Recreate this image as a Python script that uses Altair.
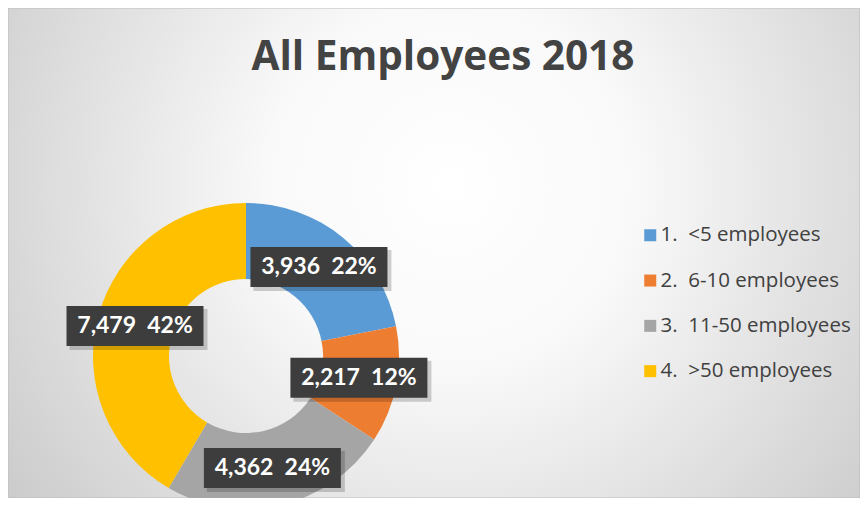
import altair as alt
import pandas as pd

TITLE = "All Employees 2018"
categories = ["1.\u00a0 <5 employees", "2.\u00a0 6-10 employees",
              "3.\u00a0 11-50 employees", "4.\u00a0 >50 employees"]
values = [3936, 2217, 4362, 7479]
colors = ["#5B9BD5", "#ED7D31", "#A5A5A5", "#FFC000"]

W, H = 852, 490
CX, CY = 238, 348
R_OUT, R_IN = 153, 77
R_LAB = 115
BOX_W, BOX_H = 137, 40
FONT = "Lato"
FONT2 = "Open Sans"

total = sum(values)
df = pd.DataFrame({
    "category": categories,
    "value": values,
    "order": list(range(len(values))),
    "label": [f"{v:,}\u00a0\u00a0{round(v / total * 100)}%" for v in values],
})

bg = alt.Chart(pd.DataFrame({"a": [0]})).mark_rect(
    color={
        "gradient": "radial",
        "x1": 0.52, "y1": 0.42, "r1": 0.0,
        "x2": 0.52, "y2": 0.42, "r2": 0.72,
        "stops": [
            {"offset": 0.0, "color": "#ffffff"},
            {"offset": 0.3, "color": "#f9f9f9"},
            {"offset": 1.0, "color": "#c2c2c2"},
        ],
    },
    stroke="#bdbdbd", strokeWidth=1,
).encode(x=alt.value(0), x2=alt.value(W), y=alt.value(0), y2=alt.value(H))

title = alt.Chart(pd.DataFrame({"t": [TITLE]})).mark_text(
    font=FONT2, fontSize=40.5, fontWeight="bold", color="#434343",
    align="center", baseline="alphabetic",
).encode(text="t:N", x=alt.value(435), y=alt.value(62))

arc = alt.Chart(df).mark_arc(outerRadius=R_OUT, innerRadius=R_IN).encode(
    theta=alt.Theta("value:Q", stack=True),
    order=alt.Order("order:Q"),
    color=alt.Color(
        "category:N",
        scale=alt.Scale(domain=categories, range=colors),
        legend=alt.Legend(
            title=None, orient="none", legendX=632, legendY=217,
            symbolType="square", symbolSize=144, symbolStrokeWidth=0,
            labelFontSize=20.5, labelFont=FONT2, labelColor="#404040",
            labelOffset=0, rowPadding=24.3, padding=0, labelLimit=300,
        ),
    ),
    x=alt.value(CX), y=alt.value(CY),
)

lab = alt.Chart(df).transform_window(
    cum="sum(value)", sort=[alt.SortField("order")], frame=[None, 0]
).transform_joinaggregate(
    total="sum(value)"
).transform_calculate(
    mid="(datum.cum - datum.value / 2) / datum.total * 2 * PI"
).transform_calculate(
    lx=f"{CX} + {R_LAB} * sin(datum.mid)",
    ly=f"{CY} - {R_LAB} * cos(datum.mid)",
).transform_calculate(
    bx1=f"datum.lx - {BOX_W / 2}", bx2=f"datum.lx + {BOX_W / 2}",
    by1=f"datum.ly - {BOX_H / 2}", by2=f"datum.ly + {BOX_H / 2}",
    sx1=f"datum.lx - {BOX_W / 2} + 3", sx2=f"datum.lx + {BOX_W / 2} + 4",
    sy1=f"datum.ly - {BOX_H / 2} + 3", sy2=f"datum.ly + {BOX_H / 2} + 4",
)

shadow = lab.mark_rect(fill="#000000", opacity=0.18).encode(
    x=alt.X("sx1:Q", scale=None, axis=None), x2="sx2:Q",
    y=alt.Y("sy1:Q", scale=None, axis=None), y2="sy2:Q",
)
box = lab.mark_rect(fill="#3d3d3d").encode(
    x=alt.X("bx1:Q", scale=None, axis=None), x2="bx2:Q",
    y=alt.Y("by1:Q", scale=None, axis=None), y2="by2:Q",
)
text = lab.mark_text(
    font=FONT, fontSize=23, fontWeight="bold", color="#ffffff",
    align="center", baseline="middle",
).encode(
    x=alt.X("lx:Q", scale=None, axis=None),
    y=alt.Y("ly:Q", scale=None, axis=None),
    text="label:N",
)

chart = alt.layer(bg, title, arc, shadow, box, text).properties(
    width=W, height=H, autosize="none", padding=0
).configure_view(stroke=None).configure(background="#ffffff")

chart.save("out.html", embed_options={"renderer": "svg", "actions": False})
